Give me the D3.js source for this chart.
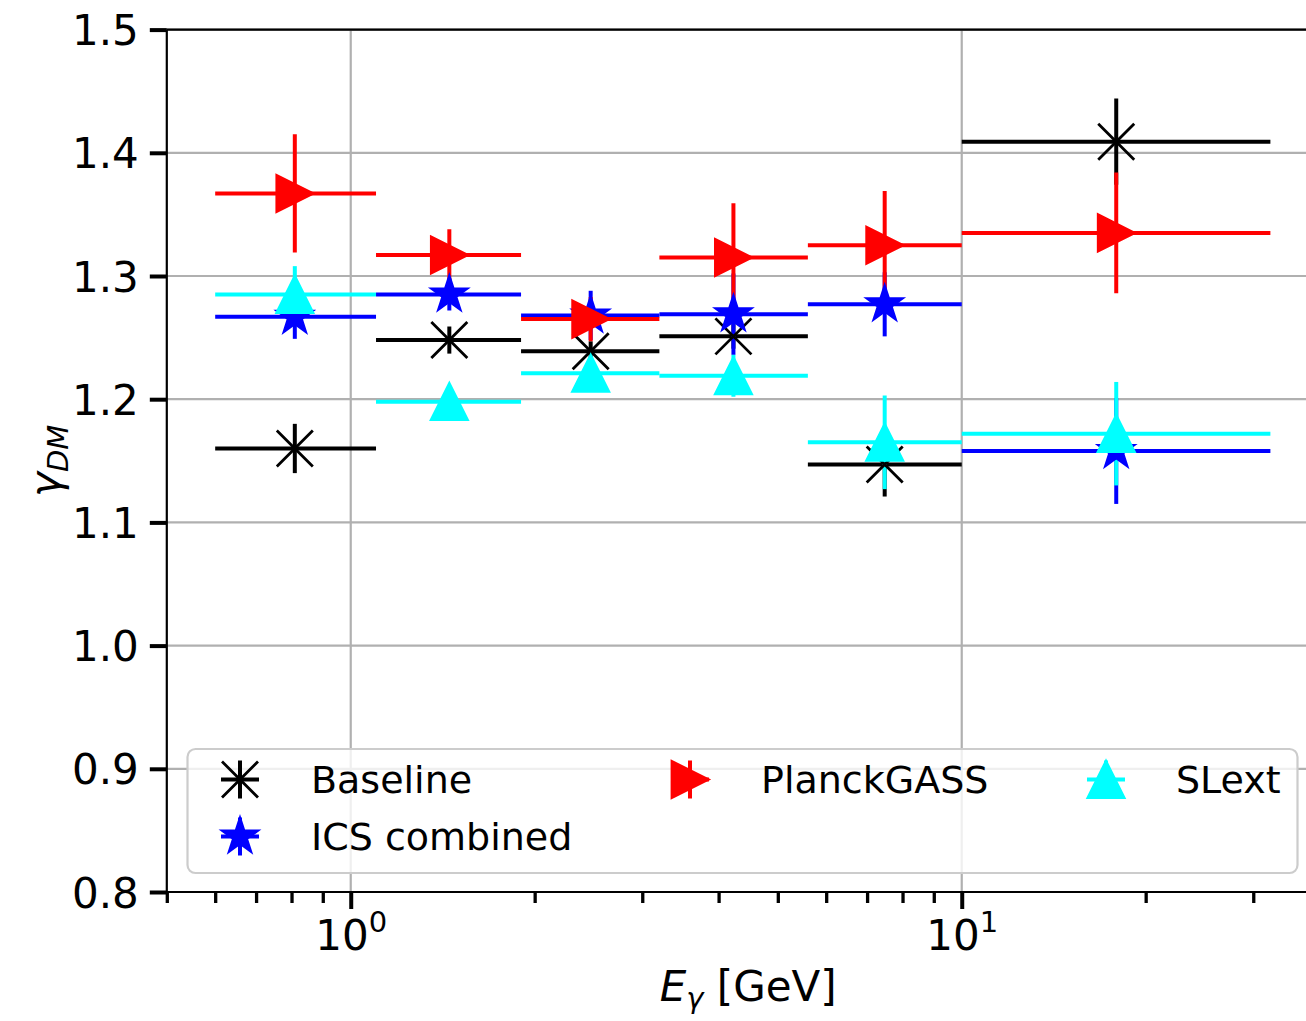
<!DOCTYPE html>
<html>
<head>
<meta charset="utf-8">
<script src="https://cdn.jsdelivr.net/npm/d3@7"></script>
<style>
  html, body { margin: 0; padding: 0; background: #fff; }
  svg { display: block; font-family: "DejaVu Sans", sans-serif; }
</style>
</head>
<body>
<svg id="chart" width="1306" height="1021"></svg>
<script>
// ---------------- data ----------------
const binLow    = [0.6, 1.1, 1.9, 3.2, 5.6, 10];
const binHigh   = [1.1, 1.9, 3.2, 5.6, 10, 32];
const binCenter = [0.81, 1.45, 2.47, 4.23, 7.48, 17.9];

const baseline    = [1.160, 1.248, 1.239, 1.251, 1.147, 1.409];
const baselineErr = [0.020, 0.011, 0.008, 0.010, 0.026, 0.035];
const ics         = [1.267, 1.285, 1.268, 1.269, 1.277, 1.158];
const icsErr      = [0.018, 0.013, 0.020, 0.033, 0.026, 0.043];
const planck      = [1.367, 1.317, 1.265, 1.315, 1.325, 1.335];
const planckErr   = [0.048, 0.021, 0.018, 0.044, 0.044, 0.049];
const slext       = [1.285, 1.198, 1.221, 1.219, 1.165, 1.172];
const slextErr    = [0.023, 0.008, 0.008, 0.017, 0.038, 0.042];

const seriesNames  = ["Baseline", "ICS combined", "PlanckGASS", "SLext"];
const yTicks       = [0.8, 0.9, 1.0, 1.1, 1.2, 1.3, 1.4, 1.5];
const xMajorTicks  = [1, 10];
const xMinorTicks  = [0.5, 0.6, 0.7, 0.8, 0.9, 2, 3, 4, 5, 6, 7, 8, 9, 20, 30];
const xMajorLabels = [["10", "0"], ["10", "1"]];

// ---------------- layout ----------------
const L = 166.8, R = 1329.6, T = 29.6, B = 892;
const FONT = "DejaVu Sans";

const svg = d3.select("#chart");
const x = d3.scaleLog().domain([0.5, 40]).range([L, R]);
const y = d3.scaleLinear().domain([0.8, 1.5]).range([B, T]);

const series = [
  { name: seriesNames[0], val: baseline, err: baselineErr, color: "#000000", marker: "x" },
  { name: seriesNames[1], val: ics,      err: icsErr,      color: "#0000ff", marker: "star" },
  { name: seriesNames[2], val: planck,   err: planckErr,   color: "#ff0000", marker: "tri-right" },
  { name: seriesNames[3], val: slext,    err: slextErr,    color: "#00ffff", marker: "tri-up" }
];

// marker paths
function markerPath(type, r) {
  if (type === "x") {
    return `M${-r},${-r}L${r},${r}M${-r},${r}L${r},${-r}`;
  } else if (type === "star") {
    const ri = r * 0.381966, pts = [];
    for (let i = 0; i < 10; i++) {
      const a = -Math.PI / 2 + i * Math.PI / 5;
      const rr = i % 2 === 0 ? r : ri;
      pts.push([rr * Math.cos(a), rr * Math.sin(a)]);
    }
    return "M" + pts.map(p => p.join(",")).join("L") + "Z";
  } else if (type === "tri-right") {
    return `M${r},0L${-r},${r}L${-r},${-r}Z`;
  } else if (type === "tri-up") {
    return `M0,${-r}L${r},${r}L${-r},${r}Z`;
  }
}
function drawMarker(g, s, cx, cy) {
  const r = 18;
  const p = g.append("path")
    .attr("d", markerPath(s.marker, r))
    .attr("transform", `translate(${cx},${cy})`)
    .attr("stroke", s.color)
    .attr("stroke-width", 2.8)
    .attr("stroke-linejoin", "miter");
  if (s.marker === "x") p.attr("fill", "none");
  else p.attr("fill", s.color);
}

// clip
svg.append("defs").append("clipPath").attr("id", "clip")
  .append("rect").attr("x", L).attr("y", T).attr("width", R - L).attr("height", B - T);

// ---------------- grid ----------------
const grid = svg.append("g");
yTicks.forEach(t => {
  grid.append("line").attr("x1", L).attr("x2", R).attr("y1", y(t)).attr("y2", y(t))
    .attr("stroke", "#b0b0b0").attr("stroke-width", 2.2);
});
xMajorTicks.forEach(t => {
  grid.append("line").attr("x1", x(t)).attr("x2", x(t)).attr("y1", T).attr("y2", B)
    .attr("stroke", "#b0b0b0").attr("stroke-width", 2.2);
});

// ---------------- data: error bars then markers ----------------
const plot = svg.append("g").attr("clip-path", "url(#clip)");
series.forEach(s => {
  s.val.forEach((v, i) => {
    plot.append("line")
      .attr("x1", x(binLow[i])).attr("x2", x(binHigh[i]))
      .attr("y1", y(v)).attr("y2", y(v))
      .attr("stroke", s.color).attr("stroke-width", 4);
    plot.append("line")
      .attr("x1", x(binCenter[i])).attr("x2", x(binCenter[i]))
      .attr("y1", y(v - s.err[i])).attr("y2", y(v + s.err[i]))
      .attr("stroke", s.color).attr("stroke-width", 4);
  });
});
series.forEach(s => {
  s.val.forEach((v, i) => drawMarker(plot, s, x(binCenter[i]), y(v)));
});

// ---------------- axes ----------------
const yAxis = d3.axisLeft(y).tickValues(yTicks).tickFormat(d3.format(".1f"))
  .tickSize(17).tickPadding(11);
const gy = svg.append("g").attr("transform", `translate(${L},0)`).call(yAxis);
gy.select(".domain").remove();
gy.selectAll(".tick line").attr("stroke", "#000").attr("stroke-width", 4);
gy.selectAll(".tick text").attr("font-family", FONT).attr("font-size", 42)
  .attr("fill", "#000").attr("dy", "0.36em");

const xMinorAxis = d3.axisBottom(x).tickValues(xMinorTicks).tickFormat("").tickSize(11);
const gxm = svg.append("g").attr("transform", `translate(0,${B})`).call(xMinorAxis);
gxm.select(".domain").remove();
gxm.selectAll(".tick line").attr("stroke", "#000").attr("stroke-width", 3.3);

const xAxis = d3.axisBottom(x).tickValues(xMajorTicks).tickFormat("").tickSize(17);
const gx = svg.append("g").attr("transform", `translate(0,${B})`).call(xAxis);
gx.select(".domain").remove();
gx.selectAll(".tick line").attr("stroke", "#000").attr("stroke-width", 4);
gx.selectAll(".tick").each(function(d, i) {
  const t = d3.select(this).append("text")
    .attr("y", 58).attr("x", 0)
    .attr("text-anchor", "middle")
    .attr("font-family", FONT).attr("fill", "#000");
  t.append("tspan").attr("font-size", 42).text(xMajorLabels[i][0]);
  t.append("tspan").attr("font-size", 29).attr("dy", -18).text(xMajorLabels[i][1]);
});

// spines
svg.append("line").attr("x1", L).attr("x2", L).attr("y1", T).attr("y2", B)
  .attr("stroke", "#000").attr("stroke-width", 2.2);
svg.append("line").attr("x1", L).attr("x2", R).attr("y1", B).attr("y2", B)
  .attr("stroke", "#000").attr("stroke-width", 2.2);
svg.append("line").attr("x1", L).attr("x2", R).attr("y1", T).attr("y2", T)
  .attr("stroke", "#000").attr("stroke-width", 2.2);
svg.append("line").attr("x1", R).attr("x2", R).attr("y1", T).attr("y2", B)
  .attr("stroke", "#000").attr("stroke-width", 2.2);

// axis labels
const xl = svg.append("text").attr("x", (L + R) / 2).attr("y", 1001)
  .attr("text-anchor", "middle").attr("font-family", FONT).attr("font-size", 42).attr("fill", "#000");
xl.append("tspan").attr("font-style", "italic").text("E");
xl.append("tspan").attr("font-style", "italic").attr("font-size", 29).attr("dy", 7).text("γ");
xl.append("tspan").attr("dy", -7).text(" [GeV]");

const yl = svg.append("text")
  .attr("transform", `translate(60,${(T + B) / 2}) rotate(-90)`)
  .attr("text-anchor", "middle").attr("font-family", FONT).attr("font-size", 42).attr("fill", "#000");
yl.append("tspan").attr("font-style", "italic").text("γ");
yl.append("tspan").attr("font-style", "italic").attr("font-size", 29).attr("dy", 8).text("DM");

// ---------------- legend ----------------
const lg = svg.append("g");
lg.append("rect").attr("x", 187.5).attr("y", 749).attr("width", 1110).attr("height", 124)
  .attr("rx", 8).attr("ry", 8)
  .attr("fill", "#fff").attr("fill-opacity", 0.8)
  .attr("stroke", "#cccccc").attr("stroke-width", 2.2);
const legendPos = [
  { mx: 240, tx: 311, ty: 779.5 },
  { mx: 240, tx: 311, ty: 836.5 },
  { mx: 690, tx: 761, ty: 779.5 },
  { mx: 1106, tx: 1176, ty: 779.5 }
];
series.forEach((s, i) => {
  const p = legendPos[i];
  lg.append("line").attr("x1", p.mx - 19).attr("x2", p.mx + 19).attr("y1", p.ty).attr("y2", p.ty)
    .attr("stroke", s.color).attr("stroke-width", 4);
  lg.append("line").attr("x1", p.mx).attr("x2", p.mx).attr("y1", p.ty - 19).attr("y2", p.ty + 19)
    .attr("stroke", s.color).attr("stroke-width", 4);
  drawMarker(lg, s, p.mx, p.ty);
  lg.append("text").attr("x", p.tx).attr("y", p.ty).attr("dy", "0.36em")
    .attr("font-family", FONT).attr("font-size", 38).attr("fill", "#000").text(s.name);
});
</script>
</body>
</html>
